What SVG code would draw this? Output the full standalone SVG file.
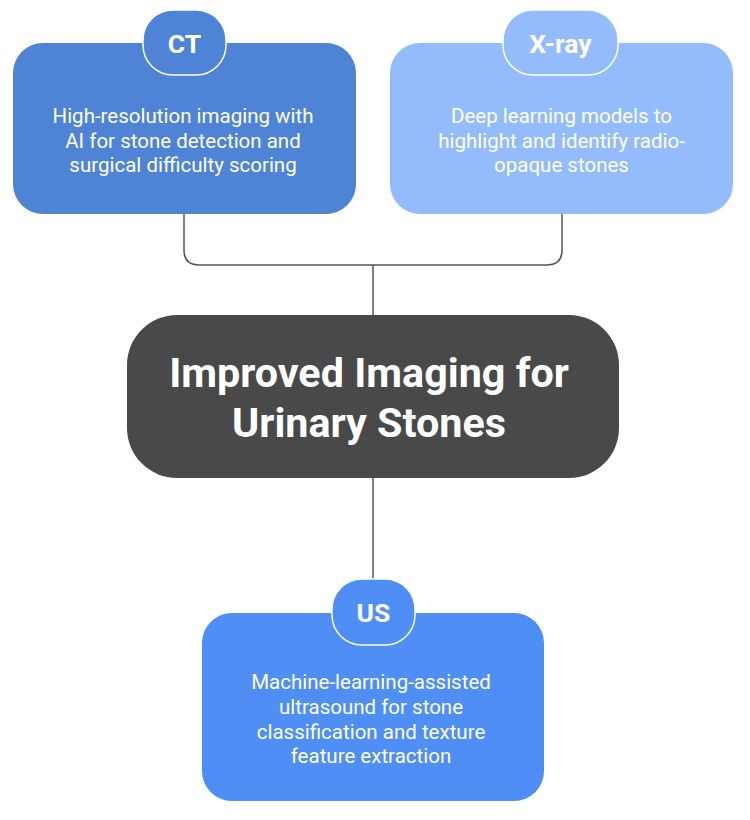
<svg xmlns="http://www.w3.org/2000/svg" width="750" height="820" viewBox="0 0 750 820">
<style>
.body{font-family:Roboto,"Liberation Sans",sans-serif;font-size:20.5px;fill:#ffffff;text-anchor:middle}
.tab{font-family:Roboto,"Liberation Sans",sans-serif;font-size:26.5px;font-weight:bold;fill:#ffffff;text-anchor:middle}
.main{font-family:Roboto,"Liberation Sans",sans-serif;font-size:41.3px;font-weight:bold;fill:#ffffff;text-anchor:middle}
.conn{fill:none;stroke:#555555;stroke-width:1.5}
</style>
<rect width="750" height="820" fill="#ffffff"/>
<g id="connectors">
<path class="conn" d="M184,213 V250 Q184,265 199,265 H547 Q562,265 562,250 V213"/>
<path class="conn" d="M373,265 V316"/>
<path class="conn" d="M373,478 V580"/>
</g>
<g id="ct">
<rect x="13" y="43" width="343" height="171" rx="30" fill="#4F83D6"/>
<rect x="143" y="10" width="83" height="65" rx="30" fill="#4F83D6" stroke="#ffffff" stroke-width="1.5"/>
<text class="tab" x="184.5" y="53">CT</text>
<text class="body" x="183" y="123">High-resolution imaging with</text>
<text class="body" x="183" y="148">AI for stone detection and</text>
<text class="body" x="183" y="172">surgical difficulty scoring</text>
</g>
<g id="xray">
<rect x="390" y="43" width="343" height="171" rx="30" fill="#94BCFD"/>
<rect x="503" y="10" width="115" height="65" rx="30" fill="#94BCFD" stroke="#ffffff" stroke-width="1.5"/>
<text class="tab" x="560.5" y="53">X-ray</text>
<text class="body" x="561.5" y="123">Deep learning models to</text>
<text class="body" x="561.5" y="148">highlight and identify radio-</text>
<text class="body" x="561.5" y="172">opaque stones</text>
</g>
<g id="center">
<rect x="127" y="315" width="492" height="163" rx="50" fill="#494949"/>
<text class="main" x="369" y="387">Improved Imaging for</text>
<text class="main" x="369" y="437">Urinary Stones</text>
</g>
<g id="us">
<rect x="202" y="613" width="342" height="188" rx="30" fill="#4F8EF5"/>
<rect x="332" y="579" width="83" height="66" rx="30" fill="#4F8EF5" stroke="#ffffff" stroke-width="1.5"/>
<text class="tab" x="373.5" y="622">US</text>
<text class="body" x="371" y="689">Machine-learning-assisted</text>
<text class="body" x="371" y="714">ultrasound for stone</text>
<text class="body" x="371" y="739">classification and texture</text>
<text class="body" x="371" y="763">feature extraction</text>
</g>
</svg>
